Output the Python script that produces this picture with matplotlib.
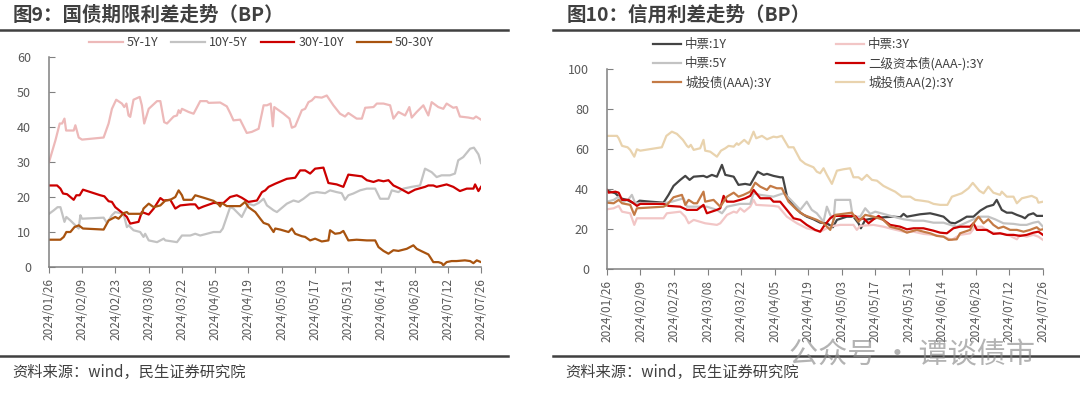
import pandas as pd
import matplotlib
matplotlib.use("Agg")
import matplotlib.pyplot as plt
import matplotlib.dates as mdates
from matplotlib.lines import Line2D

plt.rcParams["font.family"] = ["Noto Sans CJK SC", "DejaVu Sans"]

START = pd.Timestamp("2024-01-26")
END = pd.Timestamp("2024-07-26")

# ---- 图9 国债期限利差 (days after 2024/01/26, BP) ----
d_5y1y = [0, 2.7, 4.5, 5.5, 6.5, 7.2, 10.4, 11.1, 12.5, 13.9, 23.0, 25.1, 26.5, 28.3, 30.7, 31.7,
          32.6, 33.5, 34.2, 35.6, 38.2, 39.1, 40.1, 42.0, 45.5, 46.9, 48.5, 49.7, 52.5, 53.9, 54.6,
          55.3, 56.0, 58.8, 60.9, 63.7, 66.5, 67.2, 72.1, 74.9, 76.3, 77.7, 80.5, 83.3, 85.4, 88.3,
          90.4, 91.8, 93.4, 94.3, 94.9, 98.8, 101.3, 102.3, 103.7, 106.5, 107.9, 109.3, 110.7,
          112.1, 114.9, 117.0, 119.8, 122.6, 124.7, 126.1, 129.6, 131.8, 133.2, 136.7, 138.1,
          140.9, 143.7, 145.1, 147.2, 150.0, 151.8, 152.8, 154.9, 157.7, 159.8, 161.2, 164.0,
          166.1, 167.5, 170.3, 171.7, 173.1, 176.7, 178.8, 179.9, 182.0]
v_5y1y = [30.0, 36.2, 41.0, 41.0, 42.4, 39.0, 39.0, 40.5, 37.0, 36.4, 37.0, 41.0, 45.2, 47.8, 46.7,
          45.7, 46.7, 43.3, 42.9, 47.8, 48.6, 46.2, 41.0, 45.2, 47.4, 47.4, 41.4, 41.0, 43.0, 43.3,
          44.8, 44.0, 45.2, 44.3, 43.8, 47.4, 47.4, 46.9, 47.0, 45.9, 44.0, 41.9, 42.1, 38.3, 38.6,
          39.5, 46.2, 46.2, 46.7, 40.2, 45.7, 43.8, 42.4, 39.8, 40.2, 44.8, 45.2, 47.1, 47.6, 48.6,
          48.4, 49.0, 46.2, 43.8, 43.0, 44.0, 42.4, 42.4, 45.5, 45.7, 46.7, 46.7, 46.2, 42.4, 44.3,
          43.3, 45.7, 42.7, 44.3, 46.2, 43.3, 47.1, 45.7, 45.2, 46.7, 45.5, 45.7, 43.0, 42.7, 42.4,
          43.0, 42.1]

d_10y5y = [0, 2.0, 3.6, 4.8, 6.5, 7.3, 9.0, 11.1, 12.5, 13.2, 13.9, 23.0, 24.4, 26.5, 27.9, 31.4,
           32.8, 33.5, 35.6, 38.4, 39.8, 40.5, 42.0, 45.5, 46.9, 48.3, 49.0, 51.1, 53.9, 56.0, 59.5,
           61.6, 63.7, 66.5, 69.3, 72.1, 73.2, 76.3, 77.7, 81.2, 84.0, 86.2, 88.3, 90.4, 91.8, 94.6,
           96.0, 100.2, 103.0, 105.1, 107.2, 110.0, 112.8, 116.3, 118.4, 121.2, 123.3, 124.7, 126.1,
           128.2, 131.0, 133.9, 137.4, 139.5, 143.0, 144.4, 147.2, 149.3, 152.8, 156.3, 158.4,
           161.2, 163.3, 165.4, 168.9, 171.0, 172.4, 174.5, 177.4, 179.0, 180.9, 182.0]
v_10y5y = [15.2, 16.2, 17.1, 17.1, 12.9, 14.3, 13.3, 11.9, 11.0, 14.8, 13.8, 14.1, 12.6, 14.8, 15.7,
           15.2, 11.4, 11.9, 10.5, 10.0, 8.6, 9.5, 7.6, 7.1, 7.6, 8.1, 7.6, 7.4, 7.1, 9.0, 9.0, 9.5,
           9.0, 9.5, 10.0, 10.0, 11.0, 17.1, 16.7, 14.3, 18.1, 17.6, 18.3, 19.5, 17.6, 16.2, 15.7,
           18.1, 19.0, 18.6, 19.5, 21.0, 21.4, 21.1, 21.9, 21.4, 21.1, 19.2, 20.5, 21.0, 21.9, 22.4,
           22.4, 19.5, 19.5, 21.9, 21.4, 22.4, 22.9, 23.3, 28.1, 27.1, 25.7, 26.2, 26.2, 26.7, 30.5,
           31.4, 33.8, 34.1, 32.2, 29.7]

d_30y10y = [0, 3.4, 4.8, 5.9, 7.6, 10.4, 11.5, 12.9, 14.3, 21.6, 23.3, 25.1, 26.5, 27.9, 31.4, 32.8,
            34.2, 37.7, 39.1, 42.0, 44.1, 46.9, 48.3, 51.1, 53.2, 55.3, 59.5, 61.6, 63.0, 65.1, 69.3,
            73.5, 76.3, 79.1, 81.2, 84.0, 87.6, 89.7, 91.1, 92.5, 95.3, 100.2, 103.7, 105.8, 107.9,
            110.0, 112.1, 115.6, 117.7, 121.2, 124.0, 126.1, 131.8, 133.9, 136.7, 138.8, 140.9,
            143.0, 145.1, 147.9, 151.4, 154.2, 158.4, 159.8, 161.9, 163.3, 167.5, 170.3, 173.1,
            176.0, 178.8, 179.5, 180.9, 182.0]
v_30y10y = [23.3, 23.3, 22.4, 21.0, 20.8, 19.2, 20.5, 20.5, 22.1, 20.5, 20.2, 18.8, 18.6, 17.1, 15.2,
            14.3, 12.4, 12.9, 15.7, 15.0, 16.7, 19.7, 19.0, 19.2, 16.7, 17.6, 17.9, 17.9, 16.7, 17.3,
            18.3, 18.3, 20.0, 20.5, 19.8, 18.6, 19.0, 21.4, 21.9, 22.9, 23.8, 25.2, 25.5, 27.6, 27.6,
            26.7, 28.1, 28.4, 24.0, 23.6, 22.9, 26.4, 25.9, 24.8, 24.3, 24.8, 24.5, 24.8, 23.3, 22.4,
            21.1, 22.1, 22.9, 23.3, 23.3, 22.9, 23.6, 22.9, 21.7, 22.4, 22.4, 23.6, 21.7, 22.9]

d_50y30y = [0, 4.8, 6.2, 7.3, 9.0, 10.7, 12.5, 14.3, 23.0, 25.1, 27.9, 29.3, 31.4, 32.8, 33.5, 39.1,
            39.8, 42.0, 44.1, 46.9, 49.0, 51.1, 53.2, 54.6, 56.0, 56.7, 60.2, 61.6, 65.1, 69.3, 71.4,
            72.1, 72.8, 74.9, 80.5, 82.6, 84.0, 86.9, 89.0, 90.4, 92.5, 94.6, 95.3, 97.4, 100.9,
            102.3, 103.7, 106.5, 107.9, 110.0, 112.1, 114.9, 117.7, 118.4, 120.5, 122.6, 124.0,
            126.1, 129.6, 133.9, 137.4, 138.8, 140.9, 143.0, 145.1, 147.2, 150.7, 153.5, 154.9,
            157.0, 159.8, 160.5, 161.9, 164.0, 165.4, 166.1, 167.5, 169.6, 171.7, 175.2, 177.4,
            178.8, 180.2, 182.0]
v_50y30y = [7.8, 7.8, 8.6, 10.0, 10.0, 11.4, 11.9, 11.0, 10.7, 13.3, 14.3, 13.8, 15.4, 15.7, 15.2,
            15.2, 16.7, 18.1, 17.1, 17.6, 19.0, 19.2, 20.0, 21.9, 20.5, 19.2, 19.2, 20.5, 19.8, 18.9,
            17.9, 17.3, 18.3, 17.4, 17.4, 18.6, 17.1, 15.7, 13.8, 12.6, 12.1, 10.0, 11.0, 10.7, 10.0,
            11.0, 9.5, 8.8, 8.6, 7.6, 8.1, 7.3, 7.6, 10.5, 9.5, 9.7, 10.3, 7.6, 7.8, 7.6, 7.6, 5.7,
            4.6, 3.8, 4.8, 4.6, 5.2, 6.2, 5.2, 4.5, 3.6, 2.9, 1.4, 1.4, 1.1, 0.5, 1.4, 1.7, 1.7, 1.9,
            1.7, 1.1, 1.9, 1.4]

# ---- 图10 信用利差 (days after 2024/01/26, BP) ----
d_mtn1y = [0, 1.4, 3.5, 5.6, 8.3, 11.8, 13.6, 18.1, 23.6, 25.7, 27.8, 30.6, 32.7, 34.5, 36.2, 40.3,
           41.7, 43.8, 45.9, 48.0, 49.4, 52.9, 54.9, 57.7, 59.8, 62.9, 65.4, 66.8, 69.5, 72.3, 73.4,
           75.1, 77.9, 80.7, 83.4, 86.2, 89.0, 91.8, 94.3, 96.0, 100.1, 102.9, 105.0, 106.0, 107.8,
           111.3, 115.4, 119.6, 122.4, 123.8, 125.2, 130.7, 134.9, 137.7, 140.5, 143.3, 145.3,
           147.4, 150.2, 153.0, 155.8, 158.6, 161.3, 162.7, 164.8, 166.9, 169.0, 171.1, 173.2,
           174.5, 175.9, 178.0, 179.4, 182.0]
v_mtn1y = [39.3, 38.8, 38.0, 35.5, 34.7, 32.7, 34.3, 33.8, 33.3, 37.2, 41.7, 44.7, 46.7, 44.7, 46.3,
           46.7, 46.0, 47.2, 46.3, 52.2, 47.2, 46.3, 42.2, 42.7, 42.2, 48.8, 47.2, 47.7, 46.7, 46.0,
           46.0, 36.7, 31.7, 28.3, 26.3, 25.0, 23.3, 23.0, 21.0, 24.7, 26.3, 26.3, 23.0, 20.5, 24.7,
           25.5, 26.0, 26.3, 26.0, 27.7, 26.3, 27.5, 28.0, 27.2, 26.3, 23.3, 23.0, 24.3, 26.3, 26.3,
           29.3, 31.3, 32.2, 34.7, 29.7, 28.3, 28.3, 27.2, 26.3, 25.5, 27.2, 28.0, 26.7, 26.7]

d_mtn3y = [0, 2.8, 4.9, 6.3, 9.7, 11.4, 12.5, 23.6, 25.0, 30.6, 32.7, 34.1, 36.2, 41.0, 45.9, 47.3,
           50.1, 52.9, 54.2, 55.6, 57.3, 59.8, 61.2, 62.3, 69.5, 71.6, 75.1, 79.3, 83.4, 86.2, 89.0,
           91.8, 94.6, 97.4, 102.9, 104.3, 105.7, 111.3, 115.4, 119.6, 123.8, 128.0, 132.1, 136.3,
           140.5, 143.9, 147.4, 151.6, 153.7, 156.5, 159.2, 162.7, 165.5, 168.3, 171.1, 172.5,
           175.2, 178.0, 180.1, 182.0]
v_mtn3y = [30.0, 30.5, 31.7, 28.8, 28.0, 22.2, 25.5, 25.5, 28.0, 28.8, 26.3, 23.0, 24.7, 23.0, 22.2,
           23.0, 27.2, 28.8, 28.3, 30.5, 28.8, 31.3, 34.7, 32.2, 31.7, 31.3, 26.3, 23.0, 20.5, 19.7,
           18.8, 20.5, 21.7, 22.2, 22.2, 19.7, 21.7, 22.2, 21.3, 20.0, 18.8, 18.8, 17.7, 17.2, 16.3,
           14.7, 17.2, 18.0, 21.3, 21.3, 18.8, 18.0, 17.7, 16.7, 15.0, 17.2, 16.3, 17.2, 16.3, 14.7]

d_mtn5y = [0, 2.8, 4.9, 7.0, 9.0, 10.4, 11.8, 13.9, 19.5, 23.6, 27.1, 32.0, 33.4, 37.6, 41.7, 45.9,
           48.0, 50.1, 55.6, 59.8, 61.2, 64.0, 69.5, 73.7, 76.5, 80.7, 83.4, 85.5, 87.6, 90.4, 91.8,
           93.2, 94.6, 95.3, 101.5, 102.6, 105.7, 107.8, 109.9, 112.0, 115.4, 119.6, 123.8, 128.0,
           132.1, 136.3, 140.5, 143.3, 146.0, 148.8, 153.0, 155.8, 159.2, 162.0, 165.5, 169.7,
           172.5, 175.2, 178.0, 180.1, 182.0]
v_mtn5y = [33.8, 34.7, 36.3, 33.8, 35.0, 37.2, 33.0, 33.0, 33.0, 33.0, 33.8, 35.5, 31.3, 31.3, 31.3,
           29.7, 28.0, 31.3, 32.7, 32.7, 38.0, 37.2, 36.3, 38.0, 35.0, 29.7, 33.8, 29.7, 28.0, 23.8,
           31.3, 27.2, 24.7, 34.7, 34.7, 26.3, 26.3, 30.5, 27.7, 28.8, 27.7, 26.3, 25.0, 24.3, 24.3,
           23.3, 23.3, 22.2, 21.3, 22.7, 25.0, 26.3, 26.3, 25.0, 23.0, 22.7, 22.2, 22.2, 23.3, 23.8,
           21.3]

d_sub3y = [0, 0.7, 3.5, 4.9, 6.3, 9.0, 11.1, 12.5, 13.9, 23.6, 25.7, 30.6, 32.0, 33.4, 37.6, 40.3,
           41.7, 45.9, 47.3, 48.7, 50.1, 52.9, 55.6, 57.7, 59.8, 61.2, 64.0, 68.2, 69.5, 72.3, 75.1,
           77.9, 80.7, 83.4, 86.9, 89.0, 90.4, 93.2, 94.6, 103.6, 105.0, 107.1, 109.2, 111.3, 113.4,
           115.4, 118.2, 122.4, 125.2, 128.0, 132.1, 136.3, 139.1, 141.9, 144.6, 147.4, 151.6,
           153.0, 154.4, 158.6, 161.3, 164.1, 166.9, 169.7, 172.5, 175.2, 178.0, 180.1, 182.0]
v_sub3y = [39.7, 38.3, 38.8, 38.3, 34.7, 34.7, 33.0, 31.7, 32.7, 32.7, 31.7, 31.3, 30.5, 29.7, 29.7,
           32.2, 28.0, 29.7, 30.5, 36.7, 33.8, 33.8, 34.7, 35.5, 36.7, 39.7, 35.5, 35.5, 33.8, 33.8,
           29.7, 25.5, 24.7, 22.2, 19.7, 18.8, 21.3, 25.5, 26.7, 26.7, 24.7, 25.5, 23.0, 25.0, 26.7,
           24.7, 22.2, 21.3, 20.0, 20.5, 20.5, 19.3, 18.3, 18.0, 20.5, 21.3, 21.3, 23.0, 19.7, 19.7,
           17.7, 18.0, 17.2, 17.2, 16.7, 17.2, 18.3, 18.8, 17.2]

d_lgfv_aaa = [0, 2.8, 4.9, 6.3, 9.7, 11.4, 12.5, 23.6, 25.0, 27.8, 31.3, 32.7, 34.1, 36.2, 37.6,
              40.3, 41.0, 44.5, 47.3, 50.1, 52.9, 54.9, 57.0, 59.8, 61.9, 64.0, 66.8, 68.2, 70.9,
              73.0, 75.8, 79.3, 82.1, 87.6, 90.4, 93.2, 95.3, 102.2, 105.0, 107.8, 111.3, 115.4,
              118.2, 122.4, 125.2, 129.3, 132.1, 134.9, 137.7, 140.5, 142.6, 146.0, 147.4, 151.6,
              153.0, 155.1, 157.2, 159.2, 161.3, 163.4, 165.5, 168.3, 171.1, 173.9, 176.6, 179.4,
              180.7, 182.0]
v_lgfv_aaa = [33.3, 33.0, 34.7, 33.0, 32.2, 27.2, 30.5, 31.3, 32.2, 36.0, 37.2, 32.2, 34.7, 33.0,
              33.0, 38.8, 33.8, 34.7, 31.3, 36.3, 38.3, 36.3, 37.2, 38.8, 43.3, 41.3, 39.7, 41.7,
              40.5, 40.5, 33.8, 29.7, 27.2, 24.7, 23.0, 19.7, 27.2, 28.3, 23.8, 27.2, 26.3, 24.7,
              21.3, 20.0, 18.3, 19.7, 18.8, 18.0, 16.7, 16.3, 14.7, 15.0, 18.0, 19.7, 23.0, 26.3,
              23.0, 25.0, 22.2, 20.5, 21.3, 19.7, 19.7, 18.8, 19.7, 21.0, 19.7, 20.0]

d_lgfv_aa2 = [0, 4.2, 4.9, 6.3, 8.6, 9.7, 11.4, 12.5, 13.9, 22.9, 24.8, 27.1, 29.2, 31.7, 33.4,
              34.1, 35.0, 36.2, 38.9, 40.3, 41.0, 43.1, 45.9, 47.6, 49.4, 50.8, 52.9, 54.2, 54.9,
              57.3, 59.1, 61.2, 62.3, 64.7, 66.8, 69.5, 70.9, 73.0, 75.8, 77.9, 80.7, 82.8, 86.2,
              87.6, 89.0, 90.4, 91.8, 93.9, 96.0, 98.7, 101.5, 102.9, 105.0, 106.4, 108.5, 110.6,
              112.7, 115.4, 118.2, 120.3, 123.1, 126.6, 128.7, 131.4, 134.2, 136.3, 139.1, 142.1,
              144.0, 148.1, 150.9, 152.7, 155.5, 157.2, 159.2, 161.3, 164.1, 164.8, 166.9, 169.7,
              171.1, 173.2, 177.3, 179.4, 180.1, 182.0]
v_lgfv_aa2 = [66.7, 66.7, 65.5, 61.7, 61.0, 59.7, 56.3, 60.0, 59.3, 61.0, 66.7, 68.8, 67.7, 64.7,
              61.7, 61.0, 62.2, 59.7, 60.5, 64.7, 59.3, 58.8, 56.3, 59.3, 60.5, 61.7, 61.3, 63.0,
              62.2, 64.7, 62.7, 68.8, 65.5, 66.7, 65.0, 66.3, 66.0, 66.7, 61.0, 61.0, 54.7, 52.7,
              51.0, 48.8, 48.0, 50.5, 47.2, 42.7, 49.3, 50.0, 50.5, 46.0, 46.0, 44.7, 47.2, 44.7,
              44.3, 41.7, 40.0, 38.8, 36.3, 36.3, 34.7, 34.3, 33.8, 32.7, 32.2, 32.2, 36.3, 38.0,
              40.5, 43.2, 39.2, 38.0, 41.3, 38.3, 37.2, 38.8, 36.3, 36.3, 33.0, 35.5, 36.7, 35.5,
              33.3, 33.8]

left_series = [
    ("5Y-1Y", d_5y1y, v_5y1y, "#EDB9B9"),
    ("10Y-5Y", d_10y5y, v_10y5y, "#C3C3C3"),
    ("30Y-10Y", d_30y10y, v_30y10y, "#CC0000"),
    ("50-30Y", d_50y30y, v_50y30y, "#A8530F"),
]
right_series = [
    ("中票:1Y", d_mtn1y, v_mtn1y, "#444444"),
    ("中票:3Y", d_mtn3y, v_mtn3y, "#F2C6C6"),
    ("中票:5Y", d_mtn5y, v_mtn5y, "#C3C3C3"),
    ("二级资本债(AAA-):3Y", d_sub3y, v_sub3y, "#CC0000"),
    ("城投债(AAA):3Y", d_lgfv_aaa, v_lgfv_aaa, "#C47A45"),
    ("城投债AA(2):3Y", d_lgfv_aa2, v_lgfv_aa2, "#E9D3AE"),
]


def to_dates(days):
    return START + pd.to_timedelta(days, unit="D")


def style_axis(ax, ymax, ystep):
    ax.set_xlim(START, END)
    ax.set_ylim(0, ymax)
    ax.set_yticks(range(0, ymax + 1, ystep))
    ticks = pd.date_range(START, END, freq="14D")
    ax.set_xticks(ticks)
    ax.xaxis.set_major_formatter(mdates.DateFormatter("%Y/%m/%d"))
    for s in ["top", "right"]:
        ax.spines[s].set_visible(False)
    for s in ["left", "bottom"]:
        ax.spines[s].set_color("#808080")
        ax.spines[s].set_linewidth(1.1)
    ax.tick_params(axis="y", direction="in", length=4, color="#808080", pad=13,
                   labelsize=9, labelcolor="#595959")
    ax.tick_params(axis="x", direction="out", length=4, color="#808080", pad=4,
                   labelsize=8.5, labelcolor="#595959", labelrotation=90)


fig = plt.figure(figsize=(10.8, 3.99), dpi=100)

ax1 = fig.add_axes([0.0454, 0.3308, 0.4000, 0.5263])
for name, d, v, c in left_series:
    ax1.plot(to_dates(d), v, color=c, lw=1.6, label=name)
style_axis(ax1, 60, 10)
fig.legend(*ax1.get_legend_handles_labels(), loc="center", bbox_to_anchor=(0.242, 1 - 43 / 399),
           ncol=4, frameon=False, fontsize=9, handlelength=2.7, handletextpad=0.3,
           columnspacing=1.05, labelcolor="#404040")

ax2 = fig.add_axes([0.5620, 0.3251, 0.4037, 0.5013])
lines = {}
for name, d, v, c in right_series:
    lines[name] = ax2.plot(to_dates(d), v, color=c, lw=1.6, label=name)[0]
style_axis(ax2, 100, 20)

col1 = ["中票:1Y", "中票:5Y", "城投债(AAA):3Y"]
col2 = ["中票:3Y", "二级资本债(AAA-):3Y", "城投债AA(2):3Y"]
for names, x0 in [(col1, 647 / 1080), (col2, 830 / 1080)]:
    fig.legend([lines[n] for n in names], names, loc="upper left",
               bbox_to_anchor=(x0, 1 - 32 / 399), frameon=False, fontsize=9,
               handlelength=2.2, handletextpad=0.35, labelspacing=0.45, borderpad=0,
               labelcolor="#404040")

# titles and separator lines
fig.text(13 / 1080, 1 - 15 / 399, "图9：国债期限利差走势（BP）", fontsize=14, fontweight="bold",
         color="#404040", va="center", ha="left")
fig.text(567 / 1080, 1 - 15 / 399, "图10：信用利差走势（BP）", fontsize=14, fontweight="bold",
         color="#404040", va="center", ha="left")
for x0, x1 in [(0, 508 / 1080), (553 / 1080, 1.0)]:
    fig.add_artist(Line2D([x0, x1], [1 - 30 / 399] * 2, color="#404040", lw=1.8))
    fig.add_artist(Line2D([x0, x1], [1 - 356 / 399] * 2, color="#404040", lw=1.8))

fig.text(12 / 1080, 1 - 372 / 399, "资料来源：wind，民生证券研究院", fontsize=11,
         color="#404040", va="center", ha="left")
fig.text(565 / 1080, 1 - 372 / 399, "资料来源：wind，民生证券研究院", fontsize=11,
         color="#404040", va="center", ha="left")

# watermark
fig.text(912 / 1080, 1 - 355 / 399, "公众号 · 谭谈债市", fontsize=21, color="#8A8A8A",
         alpha=0.65, va="center", ha="center")

fig.savefig("out.png", dpi=100)
